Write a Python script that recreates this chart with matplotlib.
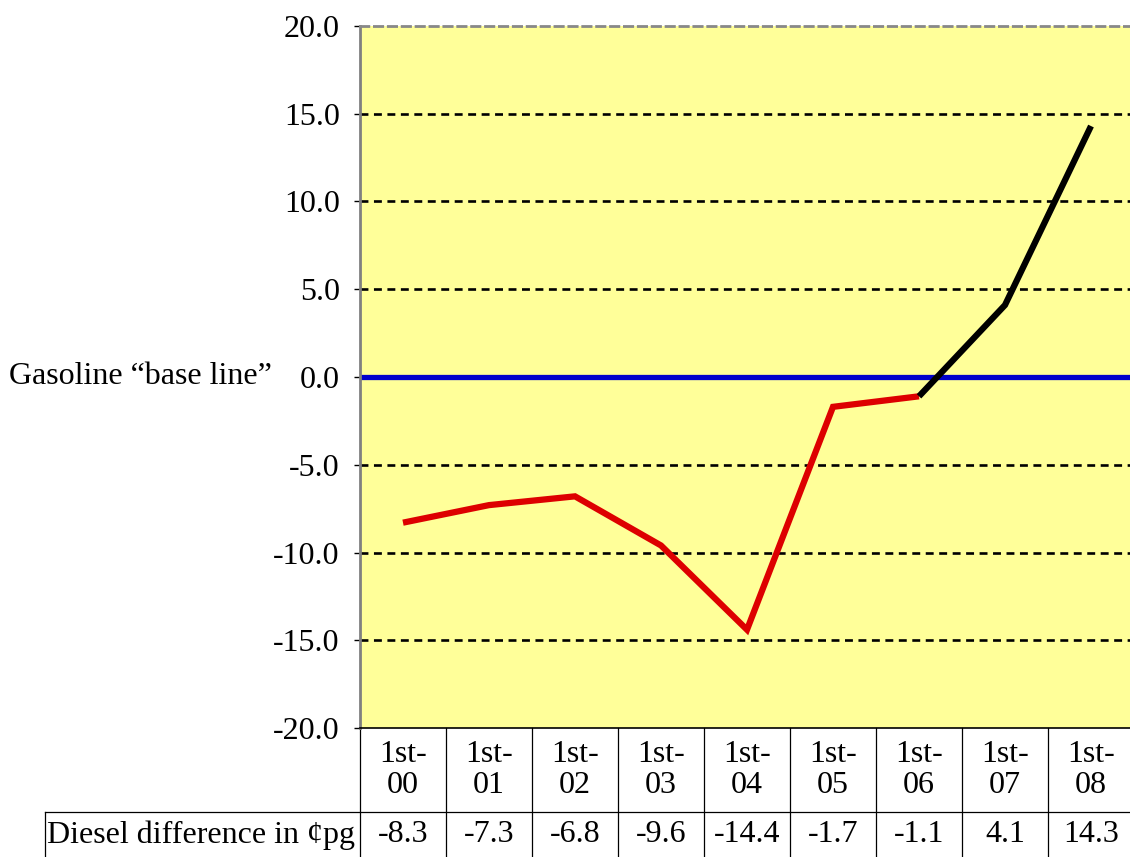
import matplotlib.pyplot as plt
import matplotlib.transforms as mtransforms

periods = ['1st-\n00', '1st-\n01', '1st-\n02', '1st-\n03', '1st-\n04',
           '1st-\n05', '1st-\n06', '1st-\n07', '1st-\n08']
diesel_diff = [-8.3, -7.3, -6.8, -9.6, -14.4, -1.7, -1.1, 4.1, 14.3]
split_at = 6  # red up to 1st-06, black after
yticks = [-20, -15, -10, -5, 0, 5, 10, 15, 20]
row_label = 'Diesel difference in \u00a2pg'
base_label = 'Gasoline \u201cbase line\u201d'

plt.rcParams['font.family'] = ['Liberation Serif', 'DejaVu Serif']
fs = 23

W, H = 1130, 857
fig = plt.figure(figsize=(W / 100, H / 100), dpi=100)
ax = fig.add_axes([360 / W, (H - 728) / H, 774 / W, 702 / H])
ax.set_facecolor('#FFFF99')

x = list(range(len(periods)))
ax.set_xlim(-0.5, len(periods) - 0.5)
ax.set_ylim(-20, 20)

# dashed grid lines
for v in yticks:
    if v not in (0, -20, 20):
        ax.axhline(v, color='black', lw=1.9, linestyle=(0, (3.0, 2.1)), zorder=1)

ax.axhline(0, color='#0000CC', lw=3.8, zorder=2)

ax.plot(x[:split_at + 1], diesel_diff[:split_at + 1], color='#DD0000', lw=4.5,
        solid_capstyle='butt', solid_joinstyle='miter', zorder=3)
ax.plot(x[split_at:], diesel_diff[split_at:], color='black', lw=4.5,
        solid_capstyle='butt', solid_joinstyle='miter', zorder=4)

ax.set_yticks(yticks)
ax.set_yticklabels(['%.1f' % v for v in yticks], fontsize=fs)
ax.tick_params(axis='y', length=4.5, width=1, pad=10, color='black')
ax.set_xticks([])

ax.spines['right'].set_visible(False)
ax.spines['left'].set_color('#808080')
ax.spines['left'].set_linewidth(2)
ax.spines['top'].set_color('#888888')
ax.spines['top'].set_linewidth(2)
ax.spines['top'].set_linestyle((0, (3, 2)))
ax.spines['bottom'].set_color('black')
ax.spines['bottom'].set_linewidth(1.2)

ax.text(272 / W, (H - 376) / H, base_label, transform=fig.transFigure,
        ha='right', va='center', fontsize=fs)

# table below the plot
blend = mtransforms.blended_transform_factory(ax.transData, ax.transAxes)
px = 1 / 702.0
row1_bot = -(812 - 728) * px
row2_bot = -(860 - 728) * px
for i in range(len(periods) + 1):
    ax.plot([i - 0.5, i - 0.5], [0, row2_bot], color='black', lw=0.9,
            transform=blend, clip_on=False)
for i, lab in enumerate(periods):
    ax.text(i, (0 + row1_bot) / 2, lab, transform=blend, ha='center', va='center',
            fontsize=fs, linespacing=1.05)
    ax.text(i, (row1_bot + (-(857 - 728) * px)) / 2, '%.1f' % diesel_diff[i],
            transform=blend, ha='center', va='center', fontsize=fs)

fig.add_artist(plt.Line2D([45 / W, 1], [(H - 812) / H, (H - 812) / H],
                          color='black', lw=0.9, transform=fig.transFigure))
fig.add_artist(plt.Line2D([45 / W, 45 / W], [(H - 812) / H, 0],
                          color='black', lw=0.9, transform=fig.transFigure))
fig.text(201 / W, (H - 835) / H, row_label, ha='center', va='center', fontsize=fs)

fig.savefig('out.png', dpi=100)
